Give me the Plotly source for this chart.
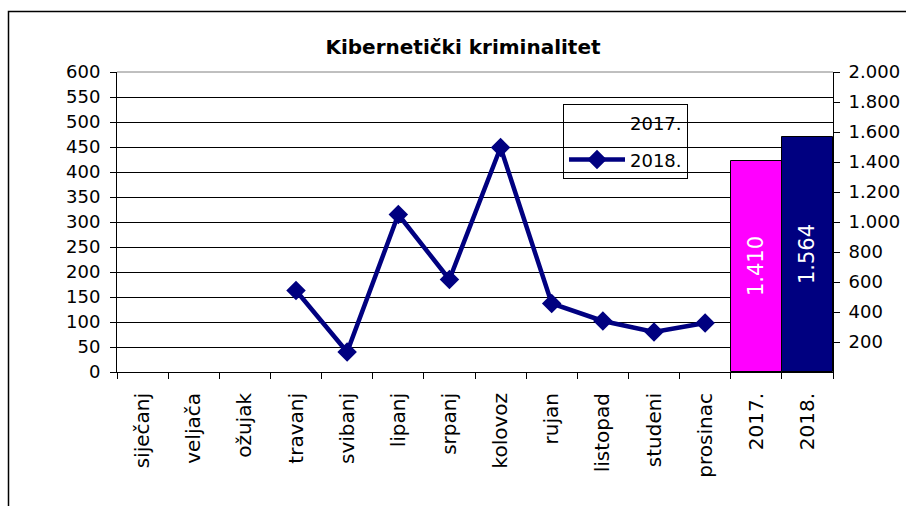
import plotly.graph_objects as go

# Kategorije na osi x
mjeseci = ['siječanj', 'veljača', 'ožujak', 'travanj', 'svibanj', 'lipanj', 'srpanj',
           'kolovoz', 'rujan', 'listopad', 'studeni', 'prosinac']
godine = ['2017.', '2018.']

# Mjesečne vrijednosti 2018. (lijeva os)
mjeseci_2018 = ['travanj', 'svibanj', 'lipanj', 'srpanj', 'kolovoz', 'rujan',
                'listopad', 'studeni', 'prosinac']
vrijednosti_2018 = [163, 40, 315, 185, 449, 137, 102, 80, 98]

# Godišnji zbrojevi (desna os)
ukupno = [1410, 1564]
boje_stupaca = ['#FF00FF', '#000080']

font_naziv = 'DejaVu Sans, Liberation Sans, Arial, sans-serif'

# margina stranice se uklanja u post_scriptu, pa su koordinate iste kao na slici
W, H = 906, 506
L, R, T, B = 117, 73, 72, 134
SIRINA, VISINA = W - L - R, H - T - B

fig = go.Figure()

# Prazna stavka legende za 2017.
fig.add_trace(go.Scatter(
    x=[None], y=[None],
    mode='lines',
    line=dict(color='rgba(0,0,0,0)', width=0),
    name='2017.',
    legendgroup='a'
))

fig.add_trace(go.Scatter(
    x=mjeseci_2018,
    y=vrijednosti_2018,
    mode='lines+markers',
    line=dict(color='#000080', width=4.5),
    marker=dict(symbol='diamond', size=15, color='#000080'),
    name='2018.',
    legendgroup='b'
))

fig.add_trace(go.Bar(
    x=godine,
    y=ukupno,
    yaxis='y2',
    marker=dict(color=boje_stupaca, line=dict(color='black', width=1)),
    texttemplate='%{y:,}',
    textposition='inside',
    textangle=-90,
    insidetextanchor='middle',
    textfont=dict(color='white', size=21, family=font_naziv),
    showlegend=False
))

fig.update_layout(
    width=W,
    height=H,
    margin=dict(l=L, r=R, t=T, b=B, autoexpand=False),
    paper_bgcolor='white',
    plot_bgcolor='white',
    separators=',.',
    font=dict(family=font_naziv, size=18, color='black'),
    title=dict(
        text='<b>Kibernetički kriminalitet</b>',
        x=463 / W, xanchor='center',
        y=1 - 47 / H, yanchor='middle',
        font=dict(size=20, family=font_naziv)
    ),
    bargap=0,
    xaxis=dict(
        type='category',
        categoryorder='array',
        categoryarray=mjeseci + godine,
        range=[-0.5, 13.5],
        tickangle=-90,
        tickson='boundaries',
        ticks='outside',
        ticklen=6,
        tickcolor='black',
        ticklabelstandoff=12,
        showline=True,
        linecolor='black',
        linewidth=1,
        showgrid=False,
        tickfont=dict(size=20)
    ),
    yaxis=dict(
        range=[0, 600],
        dtick=50,
        ticks='outside',
        ticklen=6,
        tickcolor='black',
        ticklabelstandoff=6,
        showline=True,
        linecolor='black',
        linewidth=1,
        showgrid=True,
        gridcolor='black',
        gridwidth=1,
        zeroline=False,
        tickfont=dict(size=18)
    ),
    yaxis2=dict(
        overlaying='y',
        side='right',
        range=[0, 2000],
        tickvals=[200, 400, 600, 800, 1000, 1200, 1400, 1600, 1800, 2000],
        tickformat=',d',
        ticks='outside',
        ticklen=6,
        tickcolor='black',
        ticklabelstandoff=5,
        showline=True,
        linecolor='black',
        linewidth=1,
        showgrid=False,
        zeroline=False,
        tickfont=dict(size=18)
    ),
    legend=dict(
        x=(563 - L) / SIRINA, y=(T + VISINA - 104) / VISINA,
        xanchor='left', yanchor='top',
        bgcolor='rgba(0,0,0,0)',
        bordercolor='black',
        borderwidth=1,
        font=dict(size=18),
        itemwidth=56,
        tracegroupgap=10
    )
)

# Sivi vrh područja crtanja
fig.add_shape(
    type='line', xref='paper', yref='paper',
    x0=0, x1=1, y0=1, y1=1,
    line=dict(color='#808080', width=1)
)

# Okvir cijelog grafikona (desni i donji rub su izvan slike)
fig.add_shape(
    type='rect', xref='paper', yref='paper',
    x0=(8.5 - L) / SIRINA, x1=(940 - L) / SIRINA,
    y0=(T + VISINA - 540) / VISINA, y1=(T + VISINA - 11.5) / VISINA,
    line=dict(color='black', width=1.5),
    fillcolor='rgba(0,0,0,0)',
    layer='below'
)

fig.write_html(
    'out.html',
    config={'displayModeBar': False},
    post_script="document.body.style.margin='0';document.body.style.overflow='hidden';"
)
